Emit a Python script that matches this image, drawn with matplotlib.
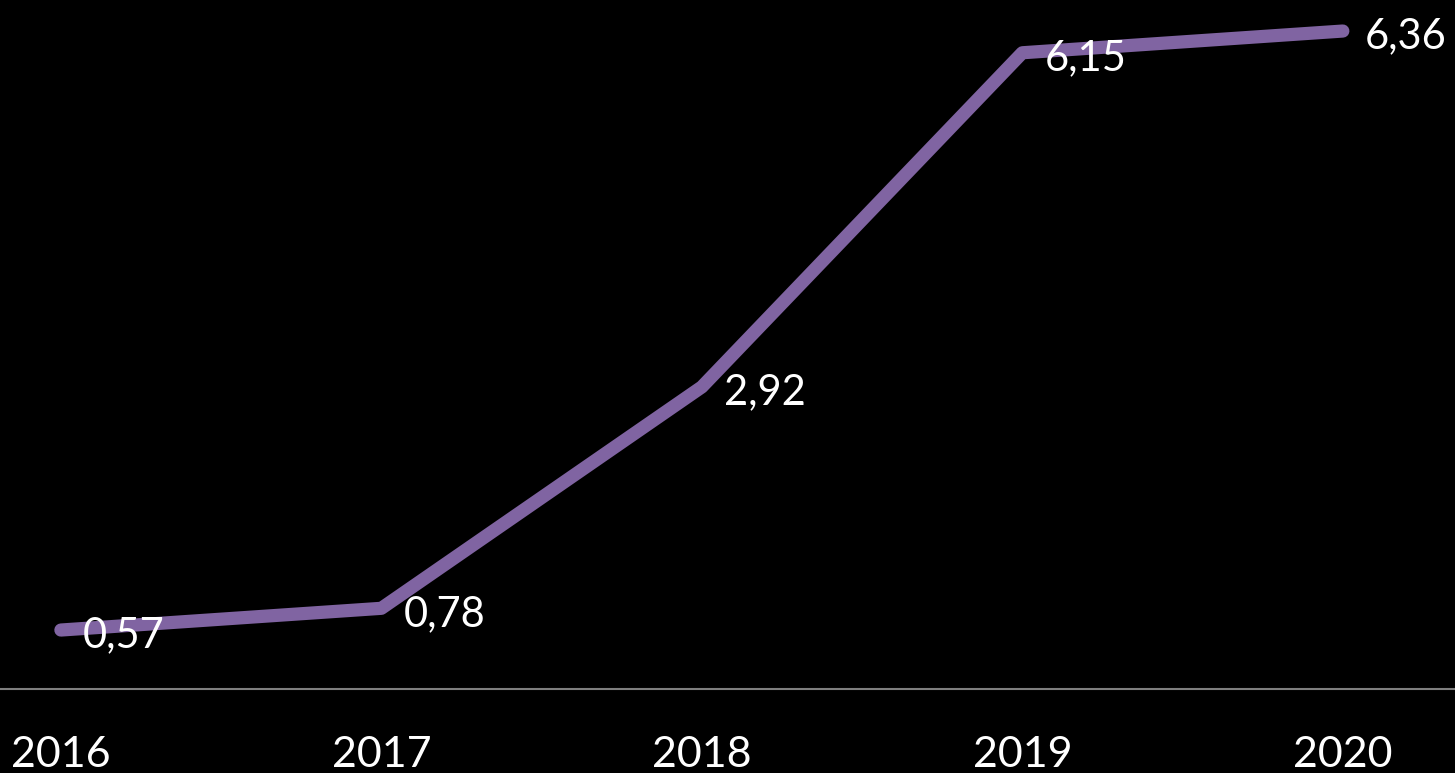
import matplotlib
matplotlib.use("Agg")
import matplotlib.pyplot as plt

years = [2016, 2017, 2018, 2019, 2020]
values = [0.57, 0.78, 2.92, 6.15, 6.36]
labels = ["0,57", "0,78", "2,92", "6,15", "6,36"]

plt.rcParams['font.family'] = ['Lato', 'DejaVu Sans']

fig = plt.figure(figsize=(14.55, 7.73), dpi=100, facecolor="black")
ax = fig.add_axes([0, 84 / 773, 1, 689 / 773], facecolor="black")

ax.plot(years, values, color="#8064A2", linewidth=9.5,
        solid_capstyle="round", solid_joinstyle="round", zorder=2)

for x, y, t in zip(years, values, labels):
    ax.annotate(t, (x, y), xytext=(16, -4), textcoords="offset points",
                ha="left", va="center", color="white", fontsize=30, zorder=3)

ax.set_xlim(2015.81, 2020.35)
ax.set_ylim(0, 6.66)
ax.set_xticks(years)
ax.set_xticklabels([str(y) for y in years])
ax.tick_params(axis="x", length=0, pad=34, labelsize=31, colors="white")
ax.set_yticks([])
for s in ["top", "right", "left"]:
    ax.spines[s].set_visible(False)
ax.spines["bottom"].set_color("#7f7f7f")
ax.spines["bottom"].set_linewidth(1.5)

fig.savefig("out.png", dpi=100, facecolor="black")
